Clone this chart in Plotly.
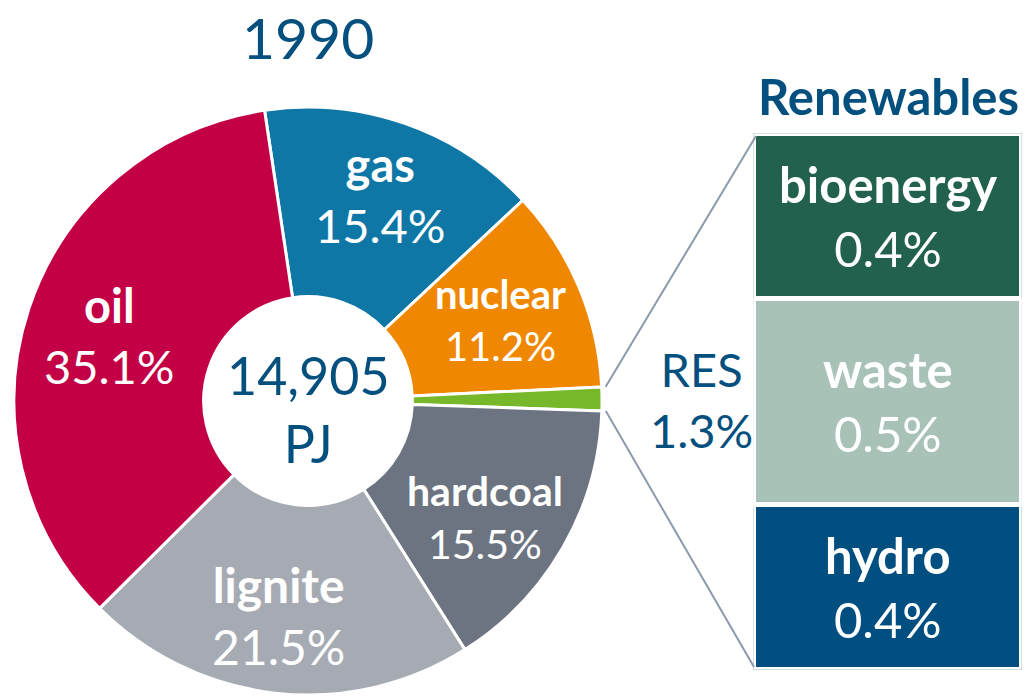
import math
import plotly.graph_objects as go

# ---- data ----
year = "1990"
total_pj = "14,905"
sources = ["gas", "nuclear", "RES", "hardcoal", "lignite", "oil"]
shares = [15.4, 11.2, 1.3, 15.5, 21.5, 35.1]
pie_colors = ["#0E77A6", "#F08700", "#76B82A", "#6B7480", "#A6ABB3", "#C30045"]

res_parts = ["hydro", "waste", "bioenergy"]          # bottom -> top
res_shares = [0.4, 0.5, 0.4]
res_colors = ["#004F80", "#A8C2B8", "#23614F"]

# ---- label styling per slice (font size, radius fraction, angle tweak) ----
show_label = [True, True, False, True, True, True]
label_font = [47, 40, 0, 41, 48, 47]
label_rfrac = [0.745, 0.71, 0.71, 0.72, 0.735, 0.71]
label_dang = [0, 0, 0, 3.5, 1.5, 0]

DARK = "#03507F"
FONT = "Lato"
W, H = 1025, 696

# ---- geometry (screen pixels) ----
cx, cy, R = 308, 401, 294
rotation = -8.5
box_l, box_r, box_t, box_b = 756, 1019, 136, 667
gap = 5.5


def px(x):
    return x / W


def py(y):
    return 1 - y / H


fig = go.Figure()

fig.add_trace(go.Pie(
    labels=sources, values=shares, sort=False, direction="clockwise",
    rotation=rotation, hole=0.355,
    marker=dict(colors=pie_colors, line=dict(color="white", width=3)),
    textinfo="none", hoverinfo="label+percent", showlegend=False,
    domain=dict(x=[px(cx - R), px(cx + R)], y=[py(cy + R), py(cy - R)]),
))

# stacked renewable boxes
for name, v, c in zip(res_parts, res_shares, res_colors):
    fig.add_trace(go.Bar(
        x=[0], y=[v], name=name, marker=dict(color=c, line=dict(color="white", width=gap)),
        width=1, showlegend=False, hoverinfo="name+y",
    ))

ext = gap / 2
fig.update_layout(
    width=W, height=H, margin=dict(l=0, r=0, t=0, b=0),
    paper_bgcolor="white", plot_bgcolor="white", barmode="stack",
    font=dict(family=FONT, color=DARK),
    xaxis=dict(domain=[px(box_l - ext), min(1, px(box_r + ext))], range=[-0.5, 0.5],
               visible=False, fixedrange=True),
    yaxis=dict(domain=[py(box_b + ext), py(box_t - ext)], range=[0, sum(res_shares)],
               visible=False, fixedrange=True),
)

ann = []


def add_text(x, y, text, size, color, xref="paper", yref="paper"):
    ann.append(dict(x=x, y=y, xref=xref, yref=yref, showarrow=False, text=text,
                    xanchor="center", yanchor="middle", align="center",
                    font=dict(family=FONT, size=size, color=color)))


# slice labels along mid-angle
cum = 0.0
tot = sum(shares)
angles = []
for s, v, show, fs, rf, da in zip(sources, shares, show_label, label_font,
                                  label_rfrac, label_dang):
    a0 = rotation + cum / tot * 360
    a1 = rotation + (cum + v) / tot * 360
    angles.append((a0, a1))
    cum += v
    if not show:
        continue
    mid = math.radians((a0 + a1) / 2 + da)
    r = rf * R
    lx = cx + r * math.sin(mid)
    ly = cy - r * math.cos(mid)
    add_text(px(lx), py(ly), f"<b>{s}</b><br>{v:.1f}%", fs, "white")

# title and centre text
add_text(px(cx), py(37), year, 57, DARK)
add_text(px(cx), py(cy + 8), f"{total_pj}<br>PJ", 52, DARK)

# RES label
res_i = sources.index("RES")
add_text(px(701), py(399), f"{sources[res_i]}<br>{shares[res_i]:.1f}%", 47, DARK)

# Renewables header
add_text(px((box_l + box_r) / 2 + 1), py(96), "<b>Renewables</b>", 49, DARK)

# box labels
base = 0.0
for name, v in zip(res_parts, res_shares):
    add_text(0, base + v / 2, f"<b>{name}</b><br>{v:.1f}%", 49, "white", "x", "y")
    base += v
fig.update_layout(annotations=ann)

# connector lines from RES slice to the box stack
a0, a1 = angles[res_i]
rr = R + 4
p0 = (cx + rr * math.sin(math.radians(a0)), cy - rr * math.cos(math.radians(a0)))
p1 = (cx + rr * math.sin(math.radians(a1)), cy - rr * math.cos(math.radians(a1)))
line_style = dict(color="#8D99AC", width=2)
fig.add_shape(type="line", xref="paper", yref="paper",
              x0=px(p0[0]), y0=py(p0[1]), x1=px(box_l), y1=py(box_t), line=line_style)
fig.add_shape(type="line", xref="paper", yref="paper",
              x0=px(p1[0]), y0=py(p1[1]), x1=px(box_l - 2), y1=py(box_b), line=line_style)

fig.write_html("out.html", config={"displayModeBar": False},
               post_script="document.body.style.margin='0';"
                           "document.body.style.overflow='hidden';")
